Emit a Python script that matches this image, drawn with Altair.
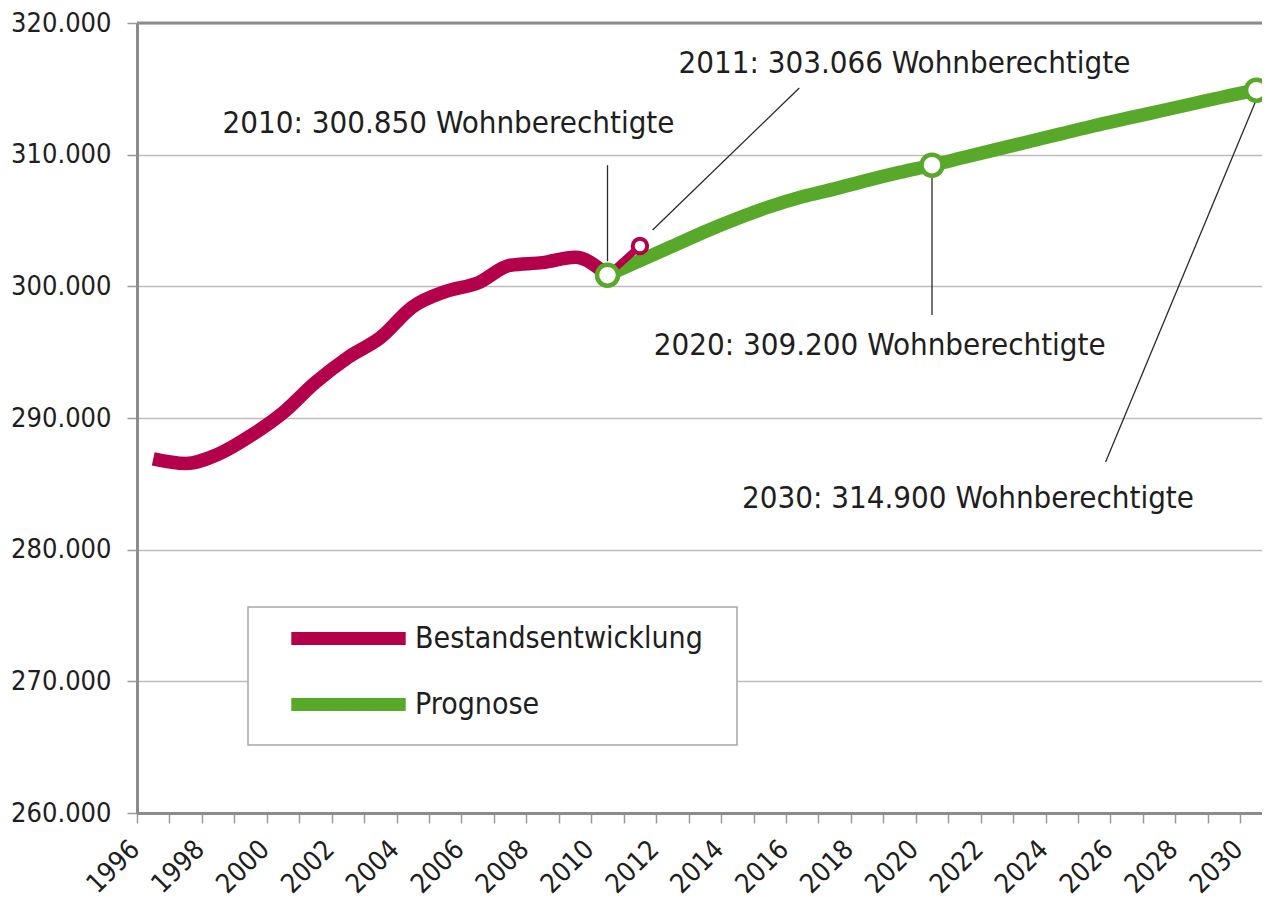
import altair as alt
import pandas as pd

FONT = "Liberation Sans Narrow, DejaVu Sans Condensed, Liberation Sans, sans-serif"
MAGENTA = "#B4004B"
GREEN = "#58A829"
TEXT = "#1e1e1e"

# ---- data -------------------------------------------------------------
hist_years = list(range(1996, 2011))
hist_values = [286900, 286550, 287250, 288650, 290400, 292700, 294600, 296100,
               298450, 299600, 300250, 301600, 301800, 302200, 300850]

bridge_years = [2010, 2011]
bridge_values = [300850, 303066]

prog_years = list(range(2010, 2031))
prog_values = [300850, 301950, 303050, 304150, 305150, 306050, 306800, 307400,
               308050, 308650, 309200, 309800, 310400, 311000, 311600, 312200,
               312750, 313300, 313850, 314400, 314900]

series_names = ["Bestandsentwicklung", "Prognose"]

mark_prog_years = [2010, 2020, 2030]
mark_prog_values = [300850, 309200, 314900]
mark_hist_years = [2011]
mark_hist_values = [303066]

ann_texts = ["2010: 300.850 Wohnberechtigte", "2011: 303.066 Wohnberechtigte",
             "2020: 309.200 Wohnberechtigte", "2030: 314.900 Wohnberechtigte"]
ann_x = [2005.1, 2019.15, 2018.39, 2021.11]
ann_y = [312330, 316890, 295470, 283850]

lead_x1 = [2010.0, 2015.91, 2020.0, 2029.99]
lead_y1 = [309200, 315063, 308456, 314152]
lead_x2 = [2010.0, 2011.39, 2020.0, 2025.35]
lead_y2 = [301900, 304278, 297823, 286658]

y_ticks = [260000, 270000, 280000, 290000, 300000, 310000, 320000]
x_ticks = [1995.5 + i for i in range(35)]

# ---- tables -----------------------------------------------------------
hist_df = pd.DataFrame({"year": hist_years, "value": hist_values, "series": series_names[0]})
prog_df = pd.DataFrame({"year": prog_years, "value": prog_values, "series": series_names[1]})
lines_df = pd.concat([hist_df, prog_df], ignore_index=True)
bridge_df = pd.DataFrame({"year": bridge_years, "value": bridge_values})
mp_df = pd.DataFrame({"year": mark_prog_years, "value": mark_prog_values})
mh_df = pd.DataFrame({"year": mark_hist_years, "value": mark_hist_values})
ann_df = pd.DataFrame({"x": ann_x, "y": ann_y, "label": ann_texts})
lead_df = pd.DataFrame({"x": lead_x1, "y": lead_y1, "x2": lead_x2, "y2": lead_y2})
top_df = pd.DataFrame({"v": [y_ticks[-1]]})

x_scale = alt.Scale(domain=[1995.5, 2030.17], nice=False, zero=False)
y_scale = alt.Scale(domain=[260000, 320000], nice=False, zero=False)

x_axis = alt.Axis(
    values=x_ticks,
    labelExpr="(datum.value + 0.5) % 2 == 0 ? toString(datum.value + 0.5) : ''",
    labelAngle=-45, labelAlign="right", labelBaseline="middle",
    labelFontSize=27, labelFont=FONT, labelColor=TEXT,
    labelPadding=22, labelOffset=-2, labelOverlap=False, labelFlush=False,
    tickSize=10, tickColor="#9a9a9a", tickWidth=1.5,
    domainColor="#8c8c8c", domainWidth=3, grid=False, title=None,
)
y_axis = alt.Axis(
    values=y_ticks,
    labelExpr="replace(format(datum.value, ','), ',', '.')",
    labelFontSize=27, labelFont=FONT, labelColor=TEXT, labelPadding=16,
    tickSize=10, tickColor="#9a9a9a", tickWidth=1.5,
    domainColor="#8c8c8c", domainWidth=3,
    grid=True, gridColor="#bdbdbd", gridWidth=1.5, title=None,
)


def X(field):
    return alt.X(field, type="quantitative", scale=x_scale, axis=x_axis)


def Y(field):
    return alt.Y(field, type="quantitative", scale=y_scale, axis=y_axis)


top_rule = alt.Chart(top_df).mark_rule(color="#8c8c8c", strokeWidth=3).encode(y=Y("v"))

legend = alt.Legend(
    title=None, orient="none", legendX=111, legendY=584,
    symbolType="M-5.2,0H5.2", symbolSize=484, symbolStrokeWidth=13,
    symbolOffset=69, labelOffset=49,
    labelFontSize=30, labelFont=FONT, labelColor=TEXT,
    labelExpr="datum.label + '\u2800'",
    rowPadding=13, padding=14, strokeColor="#a8a8a8", fillColor="white",
    labelLimit=600,
)

lines = alt.Chart(lines_df).mark_line(strokeWidth=13.5, interpolate="monotone").encode(
    x=X("year"), y=Y("value"),
    color=alt.Color("series:N", scale=alt.Scale(domain=series_names, range=[MAGENTA, GREEN]),
                    legend=legend),
    detail="series:N",
)

bridge = alt.Chart(bridge_df).mark_line(strokeWidth=7, color=MAGENTA).encode(
    x=X("year"), y=Y("value"))

leaders = alt.Chart(lead_df).mark_rule(color="#2a2a2a", strokeWidth=1.3).encode(
    x=X("x"), y=Y("y"), x2="x2", y2="y2")

mk_prog = alt.Chart(mp_df).mark_point(filled=True, fill="white", stroke=GREEN, strokeWidth=4.5,
                                      size=440, opacity=1, shape="circle").encode(
    x=X("year"), y=Y("value"))
mk_hist = alt.Chart(mh_df).mark_point(filled=True, fill="white", stroke=MAGENTA, strokeWidth=4,
                                      size=210, opacity=1, shape="circle").encode(
    x=X("year"), y=Y("value"))

ann = alt.Chart(ann_df).mark_text(font=FONT, fontSize=31, color=TEXT, align="center",
                                   baseline="middle").encode(
    x=X("x"), y=Y("y"), text="label")

chart = alt.layer(top_rule, lines, bridge, leaders, mk_hist, mk_prog, ann).properties(
    width=1125, height=790,
    autosize=alt.AutoSizeParams(type="none"),
    padding={"left": 129, "top": 15, "right": 0, "bottom": 86},
).configure_view(stroke=None).configure_legend(strokeWidth=1.5)

chart.save("out.html", embed_options={"renderer": "svg", "actions": False})
